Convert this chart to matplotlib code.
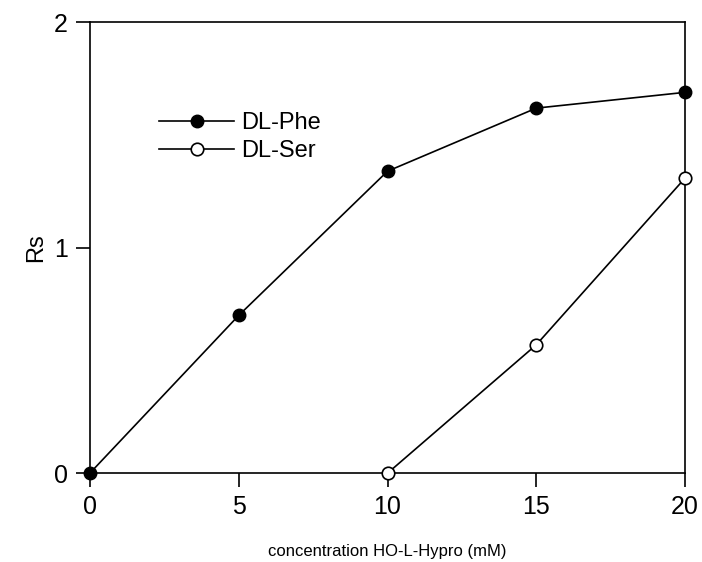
import matplotlib.pyplot as plt

# Data
conc_phe = [0, 5, 10, 15, 20]
rs_phe = [0.0, 0.70, 1.34, 1.62, 1.69]
conc_ser = [10, 15, 20]
rs_ser = [0.0, 0.57, 1.31]

xticks = [0, 5, 10, 15, 20]
yticks = [0, 1, 2]

plt.rcParams['font.family'] = ['Liberation Sans', 'DejaVu Sans']

fig = plt.figure(figsize=(7.02, 5.62), dpi=100)
ax = fig.add_axes([0.128, 0.158, 0.848, 0.802])

ax.plot(conc_phe, rs_phe, color='black', lw=1.2, marker='o', ms=9,
        mfc='black', mec='black', label='DL-Phe', clip_on=False, zorder=3)
ax.plot(conc_ser, rs_ser, color='black', lw=1.2, marker='o', ms=9,
        mfc='white', mec='black', mew=1.2, label='DL-Ser', clip_on=False, zorder=3)

ax.set_xlim(0, 20)
ax.set_ylim(0, 2)
ax.set_xticks(xticks)
ax.set_yticks(yticks)
ax.tick_params(direction='out', length=10, width=1.2, labelsize=18, pad=6)
for s in ax.spines.values():
    s.set_linewidth(1.2)

ax.set_xlabel('concentration HO-L-Hypro (mM)', fontsize=12, labelpad=18)
ax.set_ylabel('Rs', fontsize=17, labelpad=5)

ax.legend(loc='upper left', bbox_to_anchor=(0.1, 0.822), borderaxespad=0,
          frameon=False, fontsize=17, handlelength=3.2, handletextpad=0.3,
          labelspacing=0.25, numpoints=1)

fig.savefig('out.png', dpi=100)
